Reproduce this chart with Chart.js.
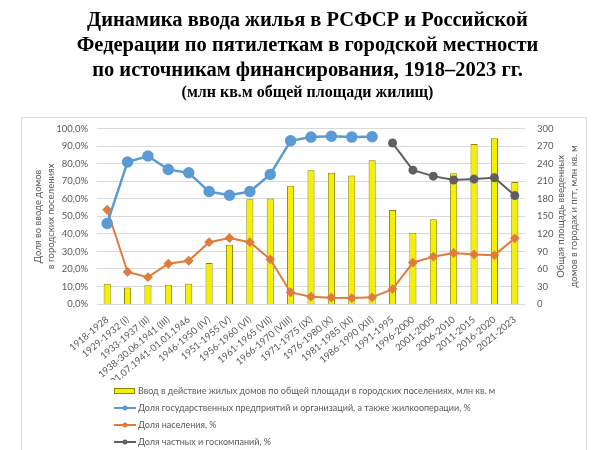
<!DOCTYPE html>
<html>
<head>
<meta charset="utf-8">
<script src="https://cdn.jsdelivr.net/npm/chart.js@4.4.0/dist/chart.umd.min.js"></script>
<style>
  html, body { margin: 0; padding: 0; background: #fff; }
  #wrap { width: 600px; height: 450px; position: relative; }
</style>
</head>
<body>
<div id="wrap"><canvas id="myChart"></canvas></div>
<script>
// periods (пятилетки)
var periods = ['1918-1928', '1929-1932 (I)', '1933-1937 (II)', '1938-30.06.1941 (III)',
  '01.07.1941-01.01.1946', '1946-1950 (IV)', '1951-1955 (V)', '1956-1960 (VI)',
  '1961-1965 (VII)', '1966-1970 (VIII)', '1971-1975 (IX)', '1976-1980 (X)',
  '1981-1985 (XI)', '1986-1990 (XII)', '1991-1995', '1996-2000', '2001-2005',
  '2006-2010', '2011-2015', '2016-2020', '2021-2023'];

// млн кв. м (правая ось)
var areaBuilt = [34.5, 28.3, 32.3, 32.8, 34.5, 70.2, 101.3, 179.4, 180.6, 202.6,
  229, 225, 220, 246, 161, 122, 145, 224, 274, 284, 209];

// доли, % (левая ось)
var stateShare = [46.0, 81.1, 84.5, 76.8, 74.9, 64.2, 62.1, 64.2, 74.0, 93.2,
  95.3, 95.8, 95.3, 95.5, null, null, null, null, null, null, null];
var populationShare = [53.8, 18.3, 15.3, 23.0, 24.7, 35.3, 37.7, 35.3, 25.5, 6.6,
  4.2, 3.6, 3.4, 3.8, 8.5, 23.6, 27.0, 29.1, 28.3, 27.9, 37.5];
var privateShare = [null, null, null, null, null, null, null, null, null, null,
  null, null, null, null, 91.9, 76.4, 73.0, 70.8, 71.3, 72.1, 61.9];

var seriesNames = [
  'Ввод в действие жилых домов по общей площади в городских поселениях, млн кв. м',
  'Доля государственных предприятий и организаций, а также жилкооперации, %',
  'Доля населения, %',
  'Доля частных и госкомпаний, %'
];

var titleLines = ['Динамика ввода жилья в РСФСР и Российской',
  'Федерации по пятилеткам в городской местности',
  'по источникам финансирования, 1918–2023 гг.'];
var subTitle = '(млн кв.м общей площади жилищ)';
var leftTitle = ['Доля во вводе домов', 'в городских поселениях'];
var rightTitle = ['Общая площадь введенных', 'домов в городах и пгт, млн кв. м'];

var grayText = '#595959';
var uiFont = 'Lato, "Noto Sans", sans-serif';

// рамка вокруг диаграммы, правый заголовок оси, легенда списком
var frameAndLegend = {
  id: 'frameAndLegend',
  beforeDraw: function (chart) {
    var ctx = chart.ctx;
    ctx.save();
    ctx.fillStyle = '#fff';
    ctx.fillRect(0, 0, chart.width, chart.height);
    ctx.strokeStyle = '#d9d9d9';
    ctx.lineWidth = 1;
    ctx.strokeRect(21.5, 117.5, 565, 360);
    ctx.restore();
  },
  afterDraw: function (chart) {
    var ctx = chart.ctx;
    var area = chart.chartArea;
    ctx.save();
    // right axis title, reads bottom-to-top
    ctx.font = '9.5px ' + uiFont;
    ctx.fillStyle = grayText;
    ctx.textAlign = 'center';
    ctx.textBaseline = 'middle';
    var cy = (area.top + area.bottom) / 2;
    rightTitle.forEach(function (t, i) {
      ctx.save();
      ctx.translate(561 + i * 13, cy);
      ctx.rotate(-Math.PI / 2);
      ctx.fillText(t, 0, 0);
      ctx.restore();
    });
    // legend
    ctx.font = '9px ' + uiFont;
    ctx.textAlign = 'left';
    chart.data.datasets.forEach(function (ds, i) {
      var y = 391 + i * 17;
      var x0 = 114;
      if (ds.type === 'bar') {
        ctx.fillStyle = ds.backgroundColor;
        ctx.strokeStyle = ds.borderColor;
        ctx.lineWidth = 1;
        ctx.fillRect(x0, y - 3, 21, 6);
        ctx.strokeRect(x0 + 0.5, y - 2.5, 20, 5);
      } else {
        ctx.strokeStyle = ds.borderColor;
        ctx.lineWidth = 2;
        ctx.beginPath();
        ctx.moveTo(x0, y);
        ctx.lineTo(x0 + 22, y);
        ctx.stroke();
        ctx.fillStyle = ds.borderColor;
        ctx.beginPath();
        ctx.arc(x0 + 11, y, 2.5, 0, Math.PI * 2);
        ctx.fill();
      }
      ctx.fillStyle = grayText;
      ctx.fillText(ds.label, x0 + 24, y);
    });
    ctx.restore();
  }
};

var myChart = new Chart(document.getElementById('myChart').getContext('2d'), {
  data: {
    labels: periods,
    datasets: [{
      type: 'bar',
      label: seriesNames[0],
      data: areaBuilt,
      yAxisID: 'y2',
      backgroundColor: '#f5f000',
      borderColor: '#8a8600',
      borderWidth: 1,
      barPercentage: 0.35,
      categoryPercentage: 1,
      order: 4
    }, {
      type: 'line',
      label: seriesNames[1],
      data: stateShare,
      yAxisID: 'y',
      borderColor: '#5b9bd5',
      backgroundColor: '#5b9bd5',
      borderWidth: 2.5,
      pointRadius: 4.5,
      pointHoverRadius: 4.5,
      order: 1
    }, {
      type: 'line',
      label: seriesNames[2],
      data: populationShare,
      yAxisID: 'y',
      borderColor: '#e07b39',
      backgroundColor: '#e07b39',
      borderWidth: 2,
      pointStyle: 'rectRot',
      pointRadius: 3.5,
      pointHoverRadius: 3.5,
      order: 2
    }, {
      type: 'line',
      label: seriesNames[3],
      data: privateShare,
      yAxisID: 'y',
      borderColor: '#5f5f5f',
      backgroundColor: '#5f5f5f',
      borderWidth: 2,
      pointRadius: 3.5,
      pointHoverRadius: 3.5,
      order: 3
    }]
  },
  options: {
    responsive: true,
    maintainAspectRatio: false,
    animation: false,
    layout: { padding: { left: 30, right: 15, top: 0, bottom: 70 } },
    plugins: {
      legend: { display: false },
      tooltip: { enabled: false },
      title: {
        display: true,
        text: titleLines,
        color: '#000',
        font: { family: '"Liberation Serif", "Times New Roman", serif', size: 20.5, weight: 'bold', lineHeight: 1.23 },
        padding: { top: 8, bottom: 0 }
      },
      subtitle: {
        display: true,
        text: subTitle,
        color: '#000',
        font: { family: '"Liberation Serif", "Times New Roman", serif', size: 16, weight: 'bold', lineHeight: 1.2 },
        padding: { top: 0, bottom: 26 }
      }
    },
    scales: {
      x: {
        grid: { display: false },
        border: { display: false },
        afterFit: function (s) { s.height = 76; },
        ticks: {
          autoSkip: false,
          minRotation: 40,
          maxRotation: 40,
          padding: 2,
          color: grayText,
          font: { family: uiFont, size: 9.5 }
        }
      },
      y: {
        position: 'left',
        min: 0,
        max: 100,
        afterFit: function (s) { s.width = 67; },
        grid: { color: '#d9d9d9', drawTicks: false },
        border: { display: false },
        ticks: {
          stepSize: 10,
          padding: 9,
          color: grayText,
          font: { family: uiFont, size: 9.5 },
          callback: function (v) { return v.toFixed(1).replace('.', ',') + '%'; }
        },
        title: {
          display: true,
          text: leftTitle,
          color: grayText,
          font: { family: uiFont, size: 9.5, lineHeight: 1.35 },
          padding: { top: 2, bottom: 0 }
        }
      },
      y2: {
        position: 'right',
        min: 0,
        max: 300,
        afterFit: function (s) { s.width = 60; },
        grid: { display: false, drawTicks: false },
        border: { display: false },
        ticks: {
          stepSize: 30,
          padding: 12,
          color: grayText,
          font: { family: uiFont, size: 9.5 }
        }
      }
    }
  },
  plugins: [frameAndLegend]
});
</script>
</body>
</html>
